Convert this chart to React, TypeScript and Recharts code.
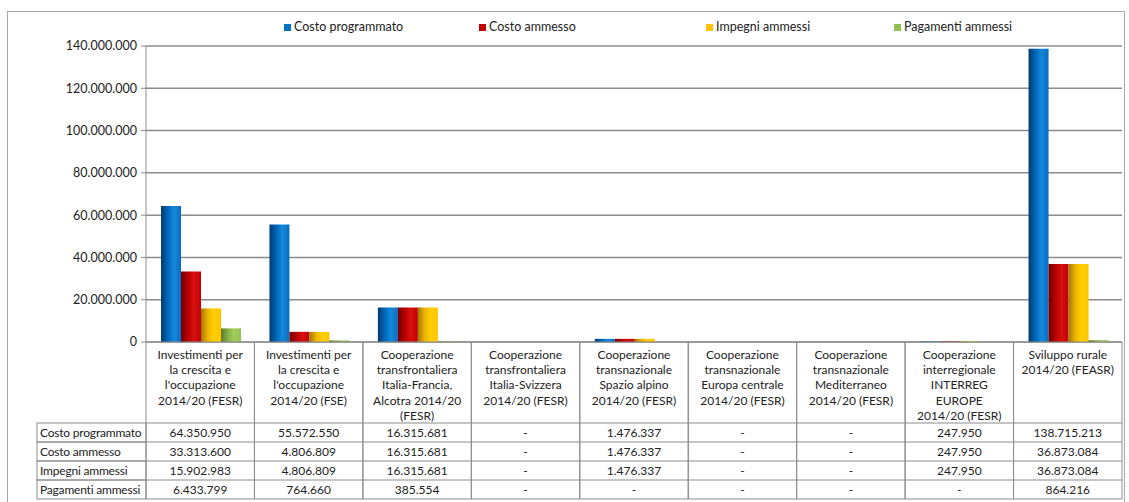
import React from 'react';
import { BarChart, Bar, XAxis, YAxis, CartesianGrid, Legend } from 'recharts';

const CATEGORIES = [
  "Investimenti per\nla crescita e\nl'occupazione\n2014/20 (FESR)",
  "Investimenti per\nla crescita e\nl'occupazione\n2014/20 (FSE)",
  'Cooperazione\ntransfrontaliera\nItalia-Francia,\nAlcotra 2014/20\n(FESR)',
  'Cooperazione\ntransfrontaliera\nItalia-Svizzera\n2014/20 (FESR)',
  'Cooperazione\ntransnazionale\nSpazio alpino\n2014/20 (FESR)',
  'Cooperazione\ntransnazionale\nEuropa centrale\n2014/20 (FESR)',
  'Cooperazione\ntransnazionale\nMediterraneo\n2014/20 (FESR)',
  'Cooperazione\ninterregionale\nINTERREG\nEUROPE\n2014/20 (FESR)',
  'Sviluppo rurale\n2014/20 (FEASR)',
];

const costoProgrammato = [64350950, 55572550, 16315681, null, 1476337, null, null, 247950, 138715213];
const costoAmmesso = [33313600, 4806809, 16315681, null, 1476337, null, null, 247950, 36873084];
const impegniAmmessi = [15902983, 4806809, 16315681, null, 1476337, null, null, 247950, 36873084];
const pagamentiAmmessi = [6433799, 764660, 385554, null, null, null, null, null, 864216];

const SERIES = [
  { key: 'prog', name: 'Costo programmato', values: costoProgrammato, color: '#0070c0', grad: ['#003a70', '#0068b8', '#1488dc', '#0a6cc0'] },
  { key: 'amm', name: 'Costo ammesso', values: costoAmmesso, color: '#c00000', grad: ['#6e0000', '#b80000', '#d81010', '#c00000'] },
  { key: 'imp', name: 'Impegni ammessi', values: impegniAmmessi, color: '#ffc000', grad: ['#a07800', '#f0b400', '#ffd000', '#ffc400'] },
  { key: 'pag', name: 'Pagamenti ammessi', values: pagamentiAmmessi, color: '#92c050', grad: ['#5a7a28', '#88b048', '#a2cc5c', '#94c050'] },
];

const Y_TICKS = [0, 20000000, 40000000, 60000000, 80000000, 100000000, 120000000, 140000000];

const data = CATEGORIES.map((name, i) => {
  const row: any = { name };
  SERIES.forEach(s => { row[s.key] = s.values[i]; });
  return row;
});

const W = 1129;
const H = 502;
const PLOT_LEFT = 146;
const PLOT_RIGHT = 1122;
const BAND = (PLOT_RIGHT - PLOT_LEFT) / CATEGORIES.length;
const HEADER_H = 81;
const ROW_H = 19;
const LABEL_COL = 109;
const FONT = 'Lato, "Open Sans", sans-serif';
const BORDER = '#8c8c8c';

const fmt = (v: number | null) =>
  v == null ? '-' : String(v).replace(/\B(?=(\d{3})+(?!\d))/g, '.');

function TableTick(props: any) {
  const { x, y, payload, index } = props;
  const i = payload.index ?? index;
  const left = x - BAND / 2;
  const right = x + BAND / 2;
  const lines = String(payload.value).split('\n');
  const bottom = y + HEADER_H + ROW_H * SERIES.length;
  return (
    <g style={{ fontFamily: FONT, fontSize: 12 }}>
      <line x1={left} x2={left} y1={y} y2={bottom} stroke={BORDER} />
      <line x1={right} x2={right} y1={y} y2={bottom} stroke={BORDER} />
      {lines.map((l, k) => (
        <text key={k} x={x} y={y + 17 + k * 15.2} textAnchor="middle" fill="#222">{l}</text>
      ))}
      {SERIES.map((s, r) => {
        const top = y + HEADER_H + r * ROW_H;
        return (
          <g key={s.key}>
            <line x1={left} x2={right} y1={top} y2={top} stroke={BORDER} />
            <text x={x} y={top + 14} textAnchor="middle" fill="#222">{fmt(s.values[i])}</text>
          </g>
        );
      })}
      <line x1={left} x2={right} y1={bottom} y2={bottom} stroke={BORDER} />
      {i === 0 && (
        <g>
          {SERIES.map((s, r) => {
            const top = y + HEADER_H + r * ROW_H;
            return (
              <g key={s.key}>
                <rect x={left - LABEL_COL} y={top} width={LABEL_COL} height={ROW_H} fill="none" stroke={BORDER} />
                <text x={left - LABEL_COL + 3} y={top + 14} fill="#222" letterSpacing={-0.2}>{s.name}</text>
              </g>
            );
          })}
        </g>
      )}
    </g>
  );
}

const LEGEND_WIDTHS = [195, 227, 188, 160];

function LegendContent() {
  return (
    <div style={{ display: 'flex', paddingLeft: 284, fontFamily: FONT, fontSize: 12.5, color: '#222', lineHeight: '18px' }}>
      {SERIES.map((s, i) => (
        <div key={s.key} style={{ width: LEGEND_WIDTHS[i], display: 'flex', alignItems: 'center' }}>
          <span style={{ width: 7, height: 7, background: s.color, marginRight: 3, display: 'inline-block' }} />
          {s.name}
        </div>
      ))}
    </div>
  );
}

export default function App() {
  return (
    <div style={{ position: 'absolute', left: 0, top: 0, width: W, height: H, overflow: 'hidden', background: '#fff' }}>
      <div style={{ position: 'absolute', left: 7, top: 11, width: 1118, height: 520, border: '1px solid #a6a6a6', boxSizing: 'border-box' }} />
      <BarChart
        width={W}
        height={H}
        data={data}
        margin={{ top: 18, right: W - PLOT_RIGHT, left: 0, bottom: 0 }}
        barCategoryGap={15}
        barGap={0}
        style={{ position: 'absolute', left: 0, top: 0 }}
      >
        <defs>
          {SERIES.map(s => (
            <linearGradient key={s.key} id={`g-${s.key}`} x1="0" y1="0" x2="1" y2="0">
              <stop offset="0%" stopColor={s.grad[0]} />
              <stop offset="35%" stopColor={s.grad[1]} />
              <stop offset="65%" stopColor={s.grad[2]} />
              <stop offset="100%" stopColor={s.grad[3]} />
            </linearGradient>
          ))}
        </defs>
        <Legend verticalAlign="top" align="left" height={28} content={<LegendContent />} wrapperStyle={{ left: 0, top: 18, width: W }} />
        <CartesianGrid vertical={false} stroke={BORDER} strokeWidth={1.5} />
        <XAxis
          dataKey="name"
          height={H - 342}
          interval={0}
          tickLine={false}
          tickSize={0}
          tickMargin={0}
          axisLine={{ stroke: BORDER }}
          tick={<TableTick />}
        />
        <YAxis
          width={PLOT_LEFT}
          domain={[0, 140000000]}
          ticks={Y_TICKS}
          tickFormatter={(v: number) => fmt(v)}
          tick={{ fontFamily: FONT, fontSize: 12.5, fill: '#222' }}
          tickSize={5}
          tickMargin={4}
          tickLine={{ stroke: BORDER }}
          axisLine={{ stroke: BORDER }}
        />
        {SERIES.map(s => (
          <Bar key={s.key} dataKey={s.key} name={s.name} fill={`url(#g-${s.key})`} isAnimationActive={false} />
        ))}
      </BarChart>
    </div>
  );
}
